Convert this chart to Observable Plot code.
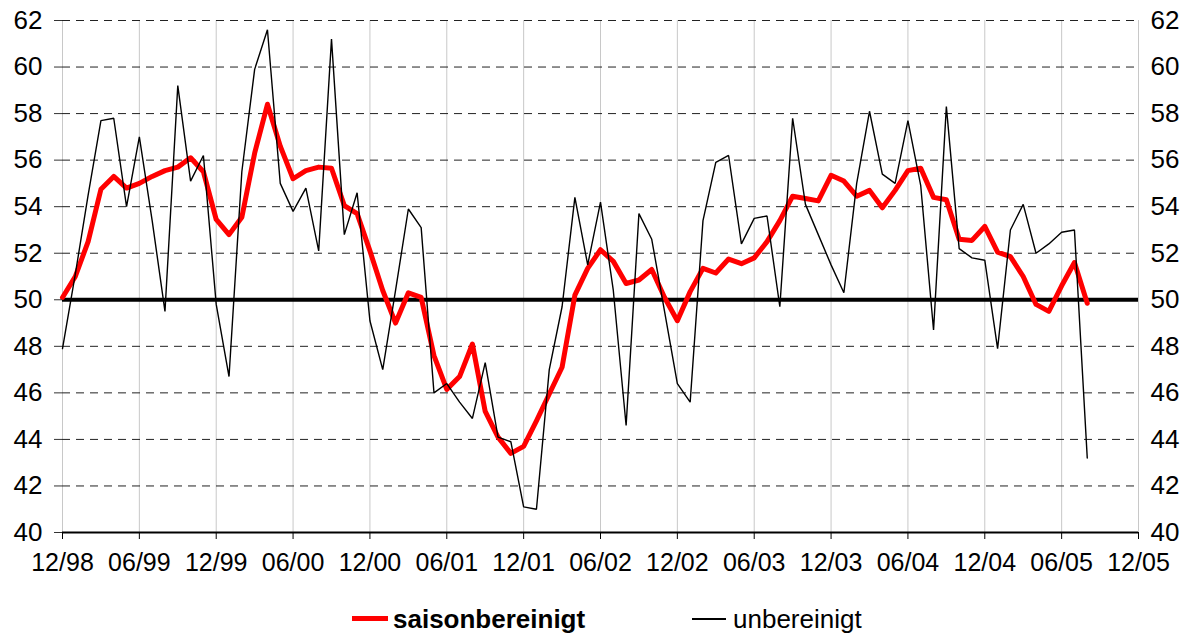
<!DOCTYPE html>
<html>
<head>
<meta charset="utf-8">
<script src="https://cdn.jsdelivr.net/npm/d3@7"></script>
<script src="https://cdn.jsdelivr.net/npm/@observablehq/plot@0.6"></script>
<style>
  html, body { margin: 0; padding: 0; background: #fff; }
  #chart svg { display: block; }
  #legend { position: relative; width: 1190px; height: 43px; font-family: "Liberation Sans", Arial, sans-serif; font-size: 26px; color: #000; }
  #legend .sw { position: absolute; }
  #legend .tx { position: absolute; line-height: 26px; white-space: nowrap; }
</style>
</head>
<body>
<div id="chart"></div>
<div id="legend">
  <div class="sw" style="left:352px; top:26px; width:36px; height:5px; background:#ff0000;"></div>
  <div class="tx" style="left:393px; top:16px; font-weight:bold;">saisonbereinigt</div>
  <div class="sw" style="left:692px; top:28px; width:34px; height:1.5px; background:#000;"></div>
  <div class="tx" style="left:733px; top:16px;">unbereinigt</div>
</div>
<script>
// Month index 0 = 12/98
const tickLabels = ["12/98","06/99","12/99","06/00","12/00","06/01","12/01","06/02","12/02","06/03","12/03","06/04","12/04","06/05","12/05"];
const tickMonths = [0,6,12,18,24,30,36,42,48,54,60,66,72,78,84];
const yTicks = [40,42,44,46,48,50,52,54,56,58,60,62];
const dashedLevels = [42,44,46,48,52,54,56,58,60,62];

const unbereinigt = [
  47.9, 51.1, 54.5, 57.7, 57.8, 54.0, 57.0, 53.4, 49.5, 59.2,
  55.1, 56.2, 49.8, 46.7, 55.5, 59.9, 61.6, 55.0, 53.8, 54.8,
  52.1, 61.2, 52.8, 54.6, 49.1, 47.0, 50.4, 53.9, 53.1, 46.0,
  46.4, 45.6, 44.9, 47.3, 44.1, 43.9, 41.1, 41.0, 47.0, 49.7,
  54.4, 51.5, 54.2, 50.4, 44.6, 53.7, 52.6, 49.5, 46.4, 45.6,
  53.4, 55.9, 56.2, 52.4, 53.5, 53.6, 49.7, 57.8, 54.1, 52.8,
  51.5, 50.3, 55.0, 58.1, 55.4, 55.0, 57.7, 54.9, 48.7, 58.3,
  52.2, 51.8, 51.7, 47.9, 53.0, 54.1, 52.0, 52.4, 52.9, 53.0,
  43.2
];
const saisonbereinigt = [
  50.1, 51.0, 52.5, 54.75, 55.3, 54.8, 55.0, 55.3, 55.55, 55.7,
  56.1, 55.5, 53.45, 52.8, 53.55, 56.3, 58.4, 56.6, 55.2, 55.55,
  55.7, 55.65, 54.05, 53.7, 52.1, 50.4, 49.0, 50.3, 50.1, 47.6,
  46.15, 46.7, 48.1, 45.2, 44.1, 43.4, 43.7, 44.8, 45.95, 47.1,
  50.2, 51.35, 52.15, 51.65, 50.7, 50.85, 51.3, 50.1, 49.1, 50.35,
  51.35, 51.15, 51.75, 51.55, 51.8, 52.5, 53.4, 54.45, 54.35, 54.25,
  55.35, 55.1, 54.45, 54.7, 53.95, 54.7, 55.55, 55.65, 54.4, 54.3,
  52.6, 52.55, 53.15, 52.05, 51.85, 51.0, 49.8, 49.5, 50.6, 51.6,
  49.85
];

const raw = unbereinigt.map((v, i) => ({m: i, v}));
const sa = saisonbereinigt.map((v, i) => ({m: i, v}));
const labelOf = new Map(tickMonths.map((m, i) => [m, tickLabels[i]]));

const chart = Plot.plot({
  width: 1190,
  height: 590,
  marginLeft: 62,
  marginRight: 52,
  marginTop: 20,
  marginBottom: 58,
  style: {fontFamily: "'Liberation Sans', Arial, sans-serif", fontSize: "26px", color: "#000", background: "#fff"},
  x: {type: "linear", domain: [0, 84]},
  y: {domain: [40, 62]},
  marks: [
    Plot.ruleX(tickMonths, {x: d => d, stroke: "#c8c8c8", strokeWidth: 1}),
    Plot.ruleY(dashedLevels, {y: d => d, stroke: "#222", strokeWidth: 1, strokeDasharray: "8,6"}),
    Plot.ruleY([50], {y: d => d, stroke: "#000", strokeWidth: 4}),
    Plot.lineY(sa, {x: "m", y: "v", stroke: "#ff0000", strokeWidth: 5, strokeLinejoin: "round"}),
    Plot.lineY(raw, {x: "m", y: "v", stroke: "#000", strokeWidth: 1.4, strokeLinejoin: "miter"}),
    Plot.ruleY([40], {y: d => d, stroke: "#000", strokeWidth: 2}),
    Plot.axisY(yTicks, {anchor: "left", tickSize: 8, tickPadding: 12, stroke: "#333", fontSize: 26, label: null}),
    Plot.axisY(yTicks, {anchor: "right", tickSize: 0, tickPadding: 12, fontSize: 26, label: null}),
    Plot.axisX(tickMonths, {anchor: "bottom", tickSize: 7, tickPadding: 14, stroke: "#000", fontSize: 25,
      fontFamily: "'Liberation Sans Narrow', 'Arial Narrow', 'Liberation Sans', sans-serif",
      tickFormat: d => labelOf.get(d), label: null})
  ]
});
document.getElementById("chart").appendChild(chart);
</script>
</body>
</html>
